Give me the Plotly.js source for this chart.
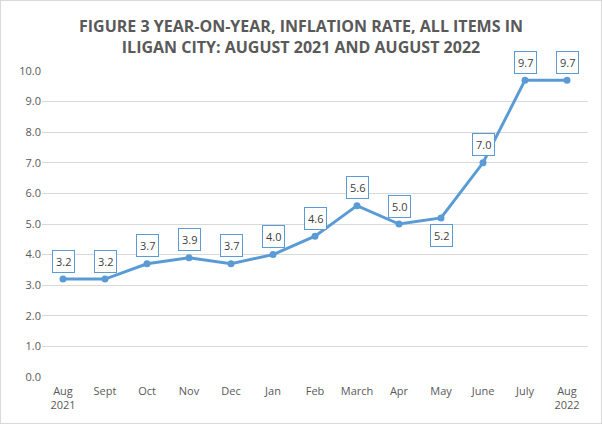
<!DOCTYPE html>
<html><head><meta charset="utf-8">
<script src="https://cdn.plot.ly/plotly-3.0.1.min.js"></script>
<style>
html,body{margin:0;padding:0;background:#fff;}
#wrap{position:relative;width:602px;height:424px;}
#chart{position:absolute;left:0;top:0;width:602px;height:424px;}
#frame{position:absolute;left:0;top:0;width:600px;height:422px;border:1px solid #d9d9d9;pointer-events:none;}
</style></head>
<body><div id="wrap"><div id="chart"></div><div id="frame"></div></div>
<script>
const categories = ["Aug<br>2021","Sept","Oct","Nov","Dec","Jan","Feb","March","Apr","May","June","July","Aug<br>2022"];
const inflation = [3.2,3.2,3.7,3.9,3.7,4.0,4.6,5.6,5.0,5.2,7.0,9.7,9.7];
const labelBelow = [false,false,false,false,false,false,false,false,false,true,false,false,false];
const yTicks = [0,1,2,3,4,5,6,7,8,9,10];

const xIdx = categories.map((c,i)=>i);
const FONT = "Open Sans, sans-serif";
const annotations = inflation.map((v,i)=>({
  x: i, y: v, xref:'x', yref:'y',
  text: v.toFixed(1),
  showarrow: true, arrowcolor:'rgba(0,0,0,0)', arrowwidth:0.1,
  ax: 0, ay: labelBelow[i] ? 18 : -18,
  bordercolor:'#5B9BD5', borderwidth:1, borderpad:3, bgcolor:'#fff',
  font:{family:FONT, size:11, color:'#404040'}
}));

const trace = {
  x: xIdx, y: inflation, type:'scatter', mode:'lines+markers',
  line:{color:'#5B9BD5', width:3},
  marker:{color:'#5B9BD5', size:7},
  hoverinfo:'skip'
};
const layout = {
  width:602, height:424,
  margin:{l:42, r:14, t:71, b:47},
  paper_bgcolor:'#fff', plot_bgcolor:'#fff',
  showlegend:false,
  title:{text:"FIGURE 3 YEAR-ON-YEAR, INFLATION RATE, ALL ITEMS IN<br>ILIGAN CITY: AUGUST 2021 AND AUGUST 2022",
    font:{family:FONT, size:16, color:'#595959', weight:'bold'}, x:0.5, xanchor:'center', y:0.925, yanchor:'middle'},
  xaxis:{range:[-0.5,12.5], tickmode:'array', tickvals:xIdx, ticktext:categories,
    showgrid:false, zeroline:false, showline:false, ticks:'', ticklabelstandoff:6,
    tickfont:{family:FONT, size:11, color:'#595959'}, fixedrange:true},
  yaxis:{range:[0,10], tickmode:'array', tickvals:yTicks, ticktext:yTicks.map(v=>v.toFixed(1)),
    showgrid:true, gridcolor:'#d9d9d9', gridwidth:1, zeroline:false, showline:false, ticks:'',
    tickfont:{family:FONT, size:11, color:'#595959'}, fixedrange:true, automargin:false},
  annotations: annotations
};
Plotly.newPlot('chart',[trace],layout,{displayModeBar:false, staticPlot:true});
</script></body></html>
